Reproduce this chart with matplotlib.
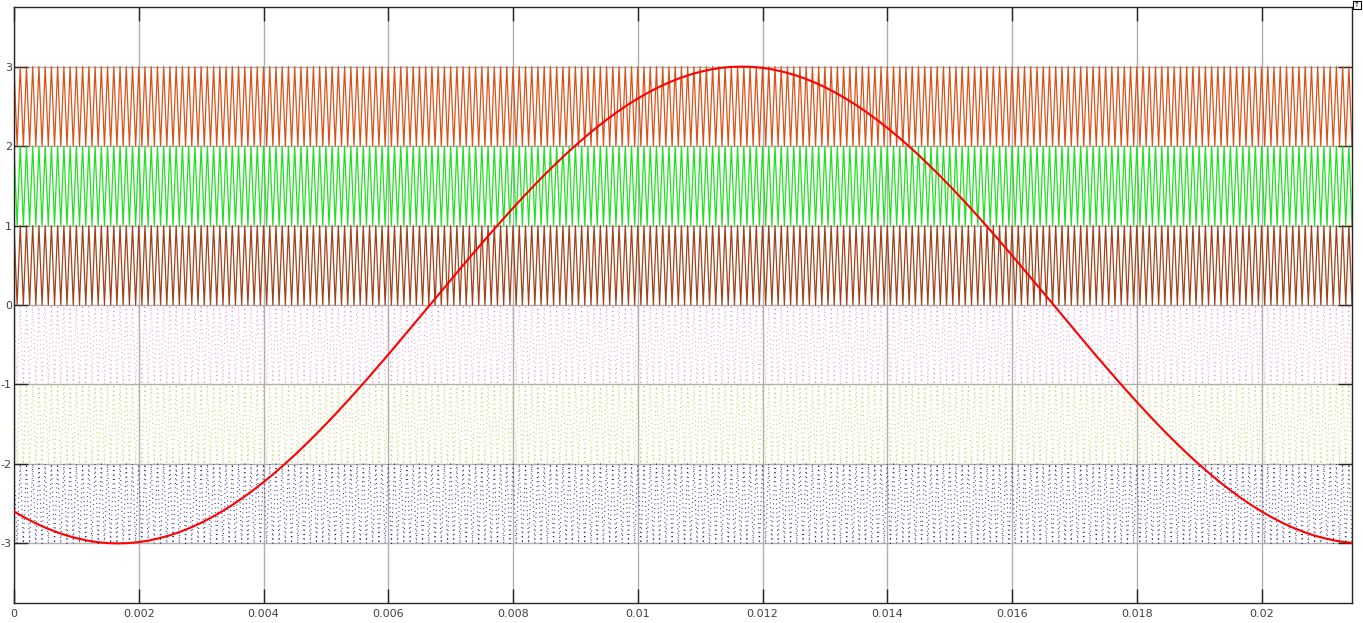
import numpy as np
import matplotlib
matplotlib.use("Agg")
import matplotlib.pyplot as plt

plt.rcParams["axes.unicode_minus"] = False

sine_t_step = 1 / 6000
sine_values = [
    -2.598, -2.673, -2.741, -2.801, -2.853, -2.898, -2.934, -2.963, -2.984, -2.996,
    -3.000, -2.996, -2.984, -2.963, -2.934, -2.898, -2.853, -2.801, -2.741, -2.673,
    -2.598, -2.516, -2.427, -2.331, -2.229, -2.121, -2.007, -1.888, -1.763, -1.634,
    -1.500, -1.362, -1.220, -1.075, -0.927, -0.776, -0.624, -0.469, -0.314, -0.157,
    0.000,
    0.157, 0.314, 0.469, 0.624, 0.776, 0.927, 1.075, 1.220, 1.362, 1.500,
    1.634, 1.763, 1.888, 2.007, 2.121, 2.229, 2.331, 2.427, 2.516, 2.598,
    2.673, 2.741, 2.801, 2.853, 2.898, 2.934, 2.963, 2.984, 2.996, 3.000,
    2.996, 2.984, 2.963, 2.934, 2.898, 2.853, 2.801, 2.741, 2.673, 2.598,
    2.516, 2.427, 2.331, 2.229, 2.121, 2.007, 1.888, 1.763, 1.634, 1.500,
    1.362, 1.220, 1.075, 0.927, 0.776, 0.624, 0.469, 0.314, 0.157, 0.000,
    -0.157, -0.314, -0.469, -0.624, -0.776, -0.927, -1.075, -1.220, -1.362, -1.500,
    -1.634, -1.763, -1.888, -2.007, -2.121, -2.229, -2.331, -2.427, -2.516, -2.598,
    -2.673, -2.741, -2.801, -2.853, -2.898, -2.934, -2.963, -2.984, -2.996,
]

# carrier bands (bottom level of each band) and carrier frequency
carrier_freq = 10000.0
band_bottoms = [2, 1, 0, -1, -2, -3]
band_colors = ["#d95319", "#22e022", "#a0431a", "#e890c8", "#c8c840", "#202080"]
band_styles = ["-", "-", "-", ":", ":", ":"]

t_end = 0.02145
x_ticks = [0, 0.002, 0.004, 0.006, 0.008, 0.01, 0.012, 0.014, 0.016, 0.018, 0.02]
x_labels = ["0", "0.002", "0.004", "0.006", "0.008", "0.01", "0.012", "0.014",
            "0.016", "0.018", "0.02"]
y_ticks = [-3, -2, -1, 0, 1, 2, 3]

fig = plt.figure(figsize=(13.63, 6.23), dpi=100)
ax = fig.add_axes([14 / 1363, 20 / 623, 1338 / 1363, 596 / 623])

# triangle carriers: vertices at every half period, starting at the top
half = 0.5 / carrier_freq
vt = np.arange(0, t_end + 2 * half, half)
tri = np.where(np.arange(len(vt)) % 2 == 0, 1.0, 0.0)
for b, c, ls in zip(band_bottoms, band_colors, band_styles):
    if ls == ":":
        ax.plot(vt, b + tri, color=c, lw=0.8, ls=(0, (0.8, 3.2)))
    else:
        ax.plot(vt, b + tri, color=c, lw=0.9)

st = np.arange(len(sine_values)) * sine_t_step
ax.plot(st, sine_values, color="#ff0000", lw=1.5, zorder=5)

ax.set_xlim(0, t_end)
ax.set_ylim(-3.75, 3.75)
ax.set_xticks(x_ticks)
ax.set_xticklabels(x_labels)
ax.set_yticks(y_ticks)
ax.grid(True, color="#b0b0b0", lw=1)
ax.set_axisbelow(True)
ax.tick_params(direction="in", length=10, width=1, color="#262626",
               top=True, right=True, labelsize=8, labelcolor="#404040", pad=4)
ax.tick_params(axis="y", pad=1.5)
for s in ax.spines.values():
    s.set_color("#262626")
    s.set_linewidth(1)

# small scope button in the top-right corner
fig.text(1357 / 1363, 618 / 623, "\u2191", fontsize=5, ha="center", va="center",
         bbox=dict(boxstyle="square,pad=0.15", fc="white", ec="black", lw=0.8))

fig.savefig("out.png", dpi=100)
